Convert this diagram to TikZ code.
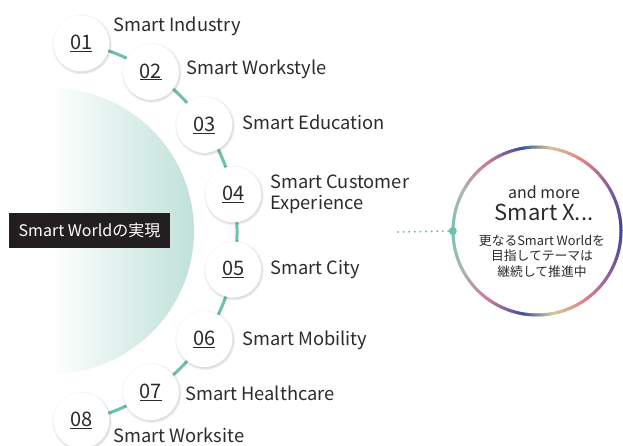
\documentclass[tikz,border=0pt]{standalone}
\usepackage{fontspec}
\setmainfont{Noto Sans CJK JP}
\usetikzlibrary{shadows.blur}

\definecolor{lineteal}{HTML}{6DBFAE}
\definecolor{discteal}{HTML}{C0E1D9}
\definecolor{boxblack}{HTML}{231F20}
\definecolor{inktext}{HTML}{2B2B2B}
% ring colour stops
\definecolor{rA}{HTML}{3D4596}
\definecolor{rB}{HTML}{7D5C9E}
\definecolor{rC}{HTML}{E27B8A}
\definecolor{rD}{HTML}{D3C990}
\definecolor{rE}{HTML}{3C4F9F}
\definecolor{rF}{HTML}{D07791}
\definecolor{rG}{HTML}{A9B6B1}
\definecolor{rH}{HTML}{7CC4B4}

\tikzset{
  numdisc/.style={circle, fill=white, minimum size=56pt, inner sep=0pt,
    text=inktext, font=\fontsize{20}{22}\selectfont,
    blur shadow={shadow blur steps=10, shadow xshift=0.8pt, shadow yshift=-1.2pt,
      shadow opacity=22, shadow blur radius=2.5pt}},
  lab/.style={anchor=base west, inner sep=0pt, text=inktext,
    font=\fontsize{18.3}{20.5}\selectfont, align=left},
}

% one gradient stretch of the outer ring, from angle #1 to #2, colour #3 to #4
\newcommand\ringpart[4]{%
  \foreach \k in {0,...,23}{%
    \pgfmathsetmacro\pa{#1+(#2-#1)*\k/24}%
    \pgfmathsetmacro\pb{#1+(#2-#1)*(\k+1)/24+0.4}%
    \pgfmathtruncatemacro\pc{100*\k/24}%
    \draw[line width=3pt, color=#4!\pc!#3]
      ([shift={(\pa:84)}]ring.center) arc[start angle=\pa, end angle=\pb, radius=84];
  }%
}

\begin{document}
\begin{tikzpicture}[x=1pt,y=1pt]
\useasboundingbox (0,0) rectangle (623,445);

% soft teal disc behind the list
\begin{scope}
  \clip (51,214) circle (143);
  \shade[left color=white, right color=discteal] (50,60) rectangle (194,370);
  \fill[white] (-100,60) rectangle (50,370);
\end{scope}

% caption box
\node[fill=boxblack, text=white, minimum width=161pt, minimum height=35pt,
      inner sep=0pt, font=\fontsize{16}{18}\selectfont] (world) at (89.5,214.5)
      {Smart Worldの実現};

% arc that links the numbered discs
\coordinate (hub) at (45,213);
\draw[line width=3pt, lineteal]
  ([shift={(79.1:192)}]hub) arc[start angle=79.1, end angle=-79.1, radius=192];

\foreach \i/\a in {01/79.1, 02/56.5, 03/33.9, 04/11.3, 05/-11.3, 06/-33.9, 07/-56.5, 08/-79.1}
  \node[numdisc] (n\i) at ([shift={(\a:192)}]hub) {\underline{\i}};

% labels
\node[lab] (l01) at (113,413) {Smart Industry};
\node[lab] (l02) at (186,370) {Smart Workstyle};
\node[lab] (l03) at (242,315) {Smart Education};
\node[lab] (l04) at (270,236) {Smart Customer\\Experience};
\node[lab] (l05) at (270,171) {Smart City};
\node[lab] (l06) at (242,100) {Smart Mobility};
\node[lab] (l07) at (185,45) {Smart Healthcare};
\node[lab] (l08) at (113,3) {Smart Worksite};

% "and more" ring
\node[circle, fill=white, minimum size=168pt, inner sep=0pt] (ring) at (537,214) {};
\ringpart{0}{28}{rA}{rB}
\ringpart{28}{55}{rB}{rC}
\ringpart{55}{80}{rC}{rD}
\ringpart{80}{100}{rD}{rE}
\ringpart{100}{125}{rE}{rF}
\ringpart{125}{152}{rF}{rG}
\ringpart{152}{180}{rG}{rH}
\ringpart{180}{208}{rH}{rG}
\ringpart{208}{235}{rG}{rF}
\ringpart{235}{260}{rF}{rE}
\ringpart{260}{280}{rE}{rD}
\ringpart{280}{305}{rD}{rC}
\ringpart{305}{332}{rC}{rB}
\ringpart{332}{360}{rB}{rA}

\node[text=inktext, font=\fontsize{16}{18}\selectfont, inner sep=0pt] (more) at (544,253) {and more};
\node[text=inktext, font=\fontsize{22}{24}\selectfont, inner sep=0pt] (smx) at (544,233) {Smart X...};
\node[text=inktext, font=\fontsize{12.8}{15.5}\selectfont, align=center, inner sep=0pt] (note) at (542,189)
  {更なるSmart Worldを\\目指してテーマは\\継続して推進中};

% dotted lead-in to the ring
\coordinate (lead) at (398,213);
\node[circle, fill=lineteal, minimum size=8pt, inner sep=0pt] (dot) at (ring.west) {};
\draw[lineteal, line width=2.2pt, line cap=round, dash pattern=on 0pt off 5.6pt] (lead) -- (dot);
\end{tikzpicture}
\end{document}
